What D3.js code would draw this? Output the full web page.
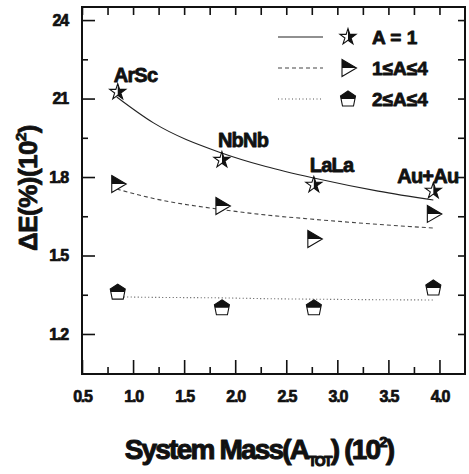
<!DOCTYPE html>
<html>
<head>
<meta charset="utf-8">
<script src="https://cdn.jsdelivr.net/npm/d3@7"></script>
<style>
  body { margin: 0; background: #fff; }
  svg { display: block; }
  text { font-family: "Liberation Sans", Arial, sans-serif; font-weight: bold; fill: #111; }
</style>
</head>
<body>
<div id="chart"></div>
<script>
// data
var systems = ["ArSc", "NbNb", "LaLa", "Au+Au"];
var mass = [0.85, 1.87, 2.77, 3.94];           // system mass (10^2)
var dE_A1 = [2.125, 1.865, 1.770, 1.747];      // A = 1
var dE_A14 = [1.773, 1.689, 1.563, 1.659];     // 1 <= A <= 4
var dE_A24 = [1.360, 1.300, 1.300, 1.376];     // 2 <= A <= 4

// fitted curves
var fitMass = [0.84, 1.2, 1.86, 2.3, 2.78, 3.4, 3.94];
var fit_A1 = [2.106, 2.007, 1.893, 1.840, 1.795, 1.746, 1.712];
var fit_A14 = [1.754, 1.718, 1.676, 1.655, 1.638, 1.619, 1.605];
var fit_A24 = [1.342, 1.340, 1.338, 1.335, 1.333, 1.331, 1.330];

var xTicks = [0.5, 1.0, 1.5, 2.0, 2.5, 3.0, 3.5, 4.0];
var xTickLabels = ["0.5", "1.0", "1.5", "2.0", "2.5", "3.0", "3.5", "4.0"];
var xMinor = [0.75, 1.25, 1.75, 2.25, 2.75, 3.25, 3.75];
var yTicks = [1.2, 1.5, 1.8, 2.1, 2.4];
var yTickLabels = ["1.2", "1.5", "1.8", "21", "24"];
var yMinor = [1.35, 1.65, 1.95, 2.25];

var legendLabels = ["A = 1", "1\u2264A\u22644", "2\u2264A\u22644"];

(function(){
    var W = 469, H = 474;
    var left = 82, right = 465, top = 7, bottom = 374;

    var svg = d3.select("#chart").append("svg")
        .attr("width", W).attr("height", H);

    var x = d3.scaleLinear().domain([0.5, 4.25]).range([left, right]);
    var y = d3.scaleLinear().domain([1.047, 2.45]).range([bottom, top]);

    // clip paths for half-filled markers (in marker's local coords)
    var defs = svg.append("defs");
    defs.append("clipPath").attr("id", "rightHalf")
        .append("rect").attr("x", 0).attr("y", -20).attr("width", 20).attr("height", 40);
    defs.append("clipPath").attr("id", "topHalf")
        .append("rect").attr("x", -20).attr("y", -20).attr("width", 40).attr("height", 20);

    var starPath = d3.symbol().type(d3.symbolStar).size(80)();
    var triPath = "M-6,-8.5L8.5,0L-6,8.5Z";
    var pentPath = "M0,-8L7.5,-3L5.5,7L-5.5,7L-7.5,-3Z";

    function drawMarker(g, path, clipId){
        g.append("path").attr("d", path)
            .attr("fill", "#fff").attr("stroke", "#111").attr("stroke-width", 1.1);
        g.append("path").attr("d", path)
            .attr("fill", "#111").attr("clip-path", "url(#" + clipId + ")");
    }

    // heavier text like the original print
    function heavy(sel, w){
        sel.attr("stroke", "#111").attr("stroke-width", w).attr("stroke-linejoin", "round");
    }

    // axes: bottom
    svg.append("g").attr("transform", "translate(0," + bottom + ")")
        .call(d3.axisBottom(x).tickValues(xTicks)
            .tickFormat(function(d, i){ return xTickLabels[i]; })
            .tickSizeInner(-14).tickSizeOuter(0).tickPadding(17))
        .call(styleAxis);
    svg.append("g").attr("transform", "translate(0," + bottom + ")")
        .call(d3.axisBottom(x).tickValues(xMinor).tickFormat("")
            .tickSizeInner(-7).tickSizeOuter(0))
        .call(styleAxis);
    // top
    svg.append("g").attr("transform", "translate(0," + top + ")")
        .call(d3.axisTop(x).tickValues(xTicks.concat(xMinor)).tickFormat("")
            .tickSizeInner(-8).tickSizeOuter(0))
        .call(styleAxis);
    // left
    svg.append("g").attr("transform", "translate(" + left + ",0)")
        .call(d3.axisLeft(y).tickValues(yTicks)
            .tickFormat(function(d, i){ return yTickLabels[i]; })
            .tickSizeInner(-13).tickSizeOuter(0).tickPadding(14))
        .call(styleAxis);
    svg.append("g").attr("transform", "translate(" + left + ",0)")
        .call(d3.axisLeft(y).tickValues(yMinor).tickFormat("")
            .tickSizeInner(-6).tickSizeOuter(0))
        .call(styleAxis);
    // right
    svg.append("g").attr("transform", "translate(" + right + ",0)")
        .call(d3.axisRight(y).tickValues(yTicks.concat(yMinor)).tickFormat("")
            .tickSizeInner(-7).tickSizeOuter(0))
        .call(styleAxis);

    function styleAxis(g){
        g.select(".domain").remove();
        g.selectAll(".tick line").attr("stroke", "#111").attr("stroke-width", 1.6);
        g.selectAll(".tick text")
            .attr("fill", "#111")
            .attr("font-size", "16px")
            .attr("font-weight", "bold")
            .attr("letter-spacing", "-1.2px")
            .attr("font-family", "'Liberation Sans', Arial, sans-serif")
            .call(heavy, 0.7);
    }

    // frame
    svg.append("rect")
        .attr("x", left).attr("y", top)
        .attr("width", right - left).attr("height", bottom - top)
        .attr("fill", "none").attr("stroke", "#111").attr("stroke-width", 2);

    // fit curves
    var line = d3.line().curve(d3.curveMonotoneX)
        .x(function(d){ return x(d[0]); })
        .y(function(d){ return y(d[1]); });

    var fits = [
        {vals: fit_A1, dash: null, color: "#222", w: 1.1},
        {vals: fit_A14, dash: "4,3", color: "#444", w: 1.1},
        {vals: fit_A24, dash: "1,2.5", color: "#555", w: 1.1}
    ];
    svg.selectAll("path.fit").data(fits).enter()
        .append("path")
        .classed("fit", true)
        .attr("d", function(f){ return line(fitMass.map(function(m, i){ return [m, f.vals[i]]; })); })
        .attr("fill", "none")
        .attr("stroke", function(f){ return f.color; })
        .attr("stroke-width", function(f){ return f.w; })
        .attr("stroke-dasharray", function(f){ return f.dash; });

    // markers
    var series = [
        {vals: dE_A1, path: starPath, clip: "rightHalf"},
        {vals: dE_A14, path: triPath, clip: "topHalf"},
        {vals: dE_A24, path: pentPath, clip: "topHalf"}
    ];
    series.forEach(function(s){
        mass.forEach(function(m, i){
            var g = svg.append("g")
                .attr("transform", "translate(" + x(m) + "," + y(s.vals[i]) + ")");
            drawMarker(g, s.path, s.clip);
        });
    });

    // system labels above the A = 1 points
    svg.selectAll("text.sys").data(systems).enter()
        .append("text")
        .classed("sys", true)
        .attr("x", function(d, i){ return i == systems.length - 1 ? x(mass[i]) + 25 : x(mass[i]) - 4; })
        .attr("y", function(d, i){ return i == 0 ? y(dE_A1[i]) - 10 : (i == systems.length - 1 ? y(dE_A1[i]) - 8 : y(dE_A1[i]) - 13); })
        .attr("text-anchor", function(d, i){ return i == systems.length - 1 ? "end" : "start"; })
        .attr("font-family", "'Liberation Sans Narrow', 'Liberation Sans', sans-serif")
        .attr("font-size", "20px")
        .attr("letter-spacing", "-0.8px")
        .call(heavy, 0.8)
        .text(function(d){ return d; });

    // legend
    var legend = svg.append("g").attr("transform", "translate(278,37)");
    legendLabels.forEach(function(lab, i){
        var row = legend.append("g").attr("transform", "translate(0," + (i * 31) + ")");
        row.append("line")
            .attr("x1", 0).attr("x2", 45).attr("y1", 0).attr("y2", 0)
            .attr("stroke", fits[i].color).attr("stroke-width", 1.1)
            .attr("stroke-dasharray", fits[i].dash);
        var m = row.append("g").attr("transform", "translate(70,0)");
        drawMarker(m, series[i].path, series[i].clip);
        row.append("text")
            .attr("x", 94).attr("y", 7)
            .attr("font-size", "19px")
            .call(heavy, 0.8)
            .text(lab);
    });

    // axis titles
    var xt = svg.append("text")
        .attr("x", 259).attr("y", 459)
        .attr("text-anchor", "middle")
        .attr("font-size", "28px")
        .attr("letter-spacing", "-1.8px")
        .call(heavy, 1);
    xt.append("tspan").text("System Mass(A");
    xt.append("tspan").attr("font-size", "14px").attr("dy", 7).text("TOT");
    xt.append("tspan").attr("dy", -7).text(") (10");
    xt.append("tspan").attr("font-size", "15px").attr("dy", -12).text("2");
    xt.append("tspan").attr("dy", 12).text(")");

    var yt = svg.append("text")
        .attr("transform", "translate(37,188) rotate(-90)")
        .attr("text-anchor", "middle")
        .attr("font-size", "26px")
        .attr("letter-spacing", "-0.5px")
        .call(heavy, 0.8);
    yt.append("tspan").text("\u0394E(%)(10");
    yt.append("tspan").attr("font-size", "15px").attr("dy", -11).text("2");
    yt.append("tspan").attr("dy", 11).text(")");
}());
</script>
</body>
</html>
